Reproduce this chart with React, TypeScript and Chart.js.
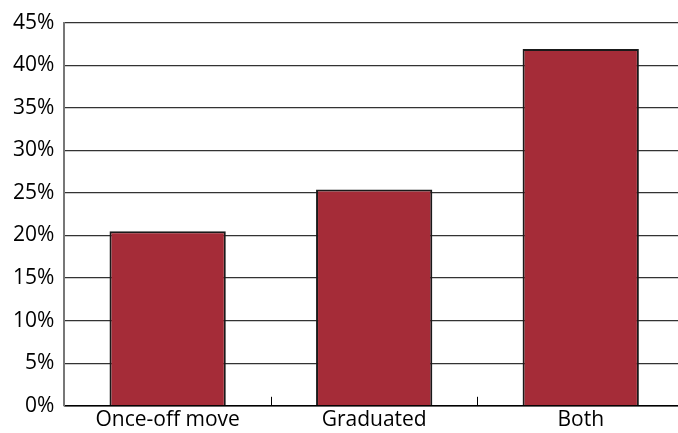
import React, { useEffect, useRef } from "react";
import { Chart, registerables } from "chart.js";

Chart.register(...registerables);

const categories = ["Once-off move", "Graduated", "Both"];
const values = [20.5, 25.4, 41.9];
const yTicks = [0, 5, 10, 15, 20, 25, 30, 35, 40, 45];

const innerTicks = {
  id: "innerTicks",
  afterDatasetsDraw(chart: any) {
    const x = chart.scales.x;
    const ctx = chart.ctx;
    const bottom = chart.chartArea.bottom;
    ctx.save();
    ctx.strokeStyle = "#000";
    ctx.lineWidth = 1;
    for (let i = 1; i < categories.length; i++) {
      const px = Math.round((x.getPixelForValue(i - 1) + x.getPixelForValue(i)) / 2) + 0.5;
      ctx.beginPath();
      ctx.moveTo(px, bottom);
      ctx.lineTo(px, bottom - 9);
      ctx.stroke();
    }
    ctx.restore();
  },
};

export default function App() {
  const ref = useRef<HTMLCanvasElement>(null);
  useEffect(() => {
    const chart = new Chart(ref.current!, {
      type: "bar",
      data: {
        labels: categories,
        datasets: [
          {
            data: values,
            backgroundColor: "#A52C38",
            borderColor: "#1a1a1a",
            borderWidth: 2,
            barPercentage: 0.563,
            categoryPercentage: 1,
          },
        ],
      },
      options: {
        responsive: false,
        animation: false,
        layout: { padding: { top: 11, left: 3, right: 0, bottom: -2 } },
        plugins: { legend: { display: false }, tooltip: { enabled: false } },
        scales: {
          x: {
            grid: { display: false, drawTicks: false },
            border: { display: true, color: "#000", width: 1.5 },
            ticks: {
              color: "#000",
              font: { family: "Open Sans", size: 21 },
              padding: 2,
            },
          },
          y: {
            min: 0,
            max: 45,
            afterBuildTicks: (axis: any) => {
              axis.ticks = yTicks.map((v) => ({ value: v }));
            },
            grid: { color: "#333", lineWidth: 1.2, drawTicks: false },
            border: { display: true, color: "#777", width: 2 },
            ticks: {
              color: "#000",
              font: { family: "Open Sans", size: 21 },
              padding: 10,
              callback: (v: any) => v + "%",
            },
          },
        },
      },
      plugins: [innerTicks],
    });
    return () => chart.destroy();
  }, []);
  return (
    <div style={{ position: "fixed", left: 0, top: 0, width: 678, height: 433, overflow: "hidden", background: "#fff" }}>
      <canvas ref={ref} width={684} height={433} style={{ display: "block" }} />
    </div>
  );
}
